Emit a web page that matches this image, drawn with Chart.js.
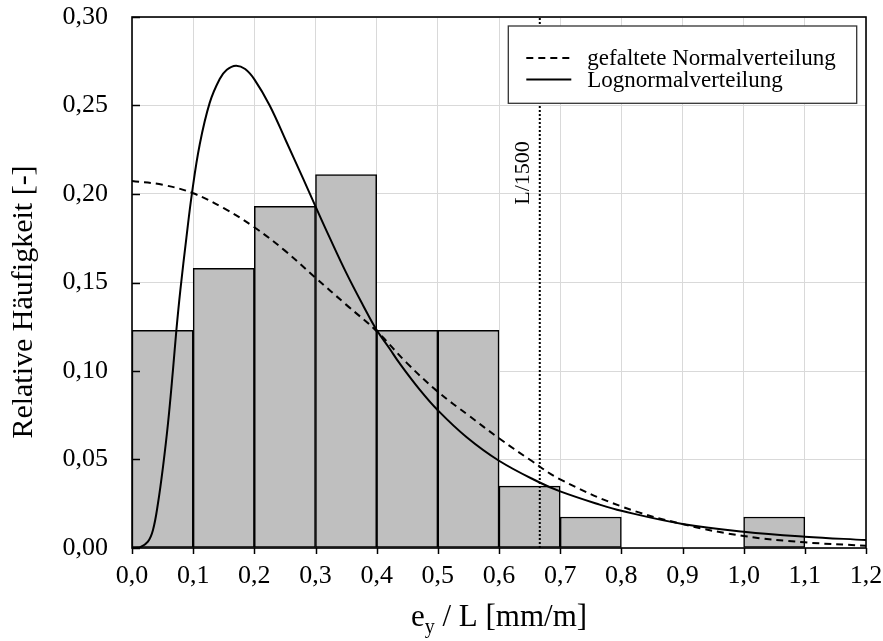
<!DOCTYPE html>
<html>
<head>
<meta charset="utf-8">
<script src="https://cdn.jsdelivr.net/npm/chart.js@4.4.1/dist/chart.umd.min.js"></script>
<style>
  html, body { margin: 0; padding: 0; background: #fff; }
  #wrap { width: 883px; height: 641px; position: relative; }
</style>
</head>
<body>
<div id="wrap"><canvas id="myChart"></canvas></div>
<script>
// Histogramm: Klassen (Beginn) und relative Häufigkeiten
const binStart = [0.0, 0.1, 0.2, 0.3, 0.4, 0.5, 0.6, 0.7, 0.8, 0.9, 1.0];
const binWidth = 0.1;
const relFreq = [0.123, 0.158, 0.193, 0.211, 0.123, 0.123, 0.035, 0.0175, 0, 0, 0.0175];

// Lognormalverteilung
const logX = [0, 0.0126, 0.026, 0.0343, 0.0425, 0.0507, 0.0589, 0.067, 0.0726, 0.0791, 0.089, 0.098, 0.1107,
  0.127, 0.1434, 0.155, 0.17, 0.185, 0.2006, 0.2251, 0.2524, 0.2796, 0.3, 0.323, 0.3505, 0.3776, 0.3995, 0.4213,
  0.4376, 0.4703, 0.5, 0.5467, 0.6, 0.6665, 0.7, 0.7646, 0.8, 0.9, 1.0, 1.1, 1.2];
const logY = [0, 0.0003, 0.0036, 0.0102, 0.0253, 0.0459, 0.0705, 0.1006, 0.1232, 0.1458, 0.1755, 0.2004, 0.228,
  0.2515, 0.2650, 0.2702, 0.2725, 0.2706, 0.2645, 0.2500, 0.2295, 0.2088, 0.1930, 0.1755, 0.1553, 0.1372, 0.1235, 0.1126,
  0.1043, 0.0895, 0.0778, 0.0627, 0.0493, 0.0370, 0.0320, 0.0245, 0.0210, 0.0136, 0.0092, 0.0064, 0.0045];

// gefaltete Normalverteilung
const normX = [0, 0.05, 0.1, 0.15, 0.2, 0.25, 0.3, 0.35, 0.4, 0.45, 0.5, 0.55,
  0.6, 0.65, 0.7, 0.8, 0.9, 1.0, 1.1, 1.2];
const normY = [0.2073, 0.2052, 0.2004, 0.1920, 0.1812, 0.1680, 0.1527, 0.1375, 0.1225, 0.1043, 0.0883, 0.0750,
  0.0620, 0.0500, 0.0388, 0.0235, 0.0135, 0.0068, 0.0032, 0.0013];

// Grenzwert L/1500
const limitX = 1 / 1.5;
const limitLabel = 'L/1500';

const xTicks = [0, 0.1, 0.2, 0.3, 0.4, 0.5, 0.6, 0.7, 0.8, 0.9, 1.0, 1.1, 1.2];
const yTicks = [0, 0.05, 0.10, 0.15, 0.20, 0.25, 0.30];

const serif = '"Liberation Serif", "Times New Roman", serif';
const comma = (v, d) => v.toFixed(d).replace('.', ',');

const toXY = (xs, ys) => xs.map((x, i) => ({ x: x, y: ys[i] }));

// Achsentitel, Rahmen, Tickstriche, Legende
const extras = {
  id: 'extras',
  afterDatasetsDraw(chart) {
    const { ctx, chartArea: a, scales } = chart;
    const xs = scales.x, ys = scales.y;
    ctx.save();

    // L/1500 Beschriftung
    ctx.fillStyle = '#000';
    ctx.font = '22px ' + serif;
    ctx.textAlign = 'center';
    ctx.textBaseline = 'middle';
    ctx.translate(xs.getPixelForValue(limitX) - 17, a.top + 156);
    ctx.rotate(-Math.PI / 2);
    ctx.fillText(limitLabel, 0, 0);
    ctx.setTransform(1, 0, 0, 1, 0, 0);

    // Legende
    const lx = a.right - 357.7, ly = a.top + 9, lw = 348.4, lh = 77.3;
    ctx.fillStyle = '#fff';
    ctx.fillRect(lx, ly, lw, lh);
    ctx.strokeStyle = '#333';
    ctx.lineWidth = 1.3;
    ctx.strokeRect(lx, ly, lw, lh);
    const items = [chart.data.datasets[1], chart.data.datasets[2]];
    items.forEach((ds, i) => {
      const y = ly + 32 + i * 21.6;
      ctx.strokeStyle = '#000';
      ctx.lineWidth = 2;
      ctx.setLineDash(ds.borderDash || []);
      ctx.beginPath();
      ctx.moveTo(lx + 18, y);
      ctx.lineTo(lx + 63, y);
      ctx.stroke();
      ctx.setLineDash([]);
      ctx.fillStyle = '#000';
      ctx.font = '23px ' + serif;
      ctx.textAlign = 'left';
      ctx.textBaseline = 'middle';
      ctx.fillText(ds.label, lx + 79, y + 1);
    });

    // y-Ticks nach innen, x-Ticks nach aussen
    ctx.strokeStyle = '#000';
    ctx.lineWidth = 1.5;
    yTicks.forEach(v => {
      const y = Math.round(ys.getPixelForValue(v)) + 0.5;
      ctx.beginPath();
      ctx.moveTo(a.left, y);
      ctx.lineTo(a.left + 8, y);
      ctx.stroke();
    });
    xTicks.forEach(v => {
      const x = Math.round(xs.getPixelForValue(v)) + 0.5;
      ctx.beginPath();
      ctx.moveTo(x, a.bottom);
      ctx.lineTo(x, a.bottom + 6);
      ctx.stroke();
    });

    // Rahmen
    ctx.lineWidth = 1.6;
    ctx.strokeRect(a.left, a.top, a.right - a.left, a.bottom - a.top);

    // Achsentitel
    ctx.fillStyle = '#000';
    ctx.font = '31px ' + serif;
    ctx.textBaseline = 'alphabetic';
    const cx = (a.left + a.right) / 2;
    const w1 = ctx.measureText('e').width;
    ctx.font = '20px ' + serif;
    const w2 = ctx.measureText('y').width;
    ctx.font = '31px ' + serif;
    const w3 = ctx.measureText(' / L [mm/m]').width;
    const sx = cx - (w1 + w2 + w3) / 2;
    const by = a.bottom + 78;
    ctx.textAlign = 'left';
    ctx.fillText('e', sx, by);
    ctx.font = '20px ' + serif;
    ctx.fillText('y', sx + w1, by + 7);
    ctx.font = '31px ' + serif;
    ctx.fillText(' / L [mm/m]', sx + w1 + w2, by);

    ctx.font = '30px ' + serif;
    ctx.translate(24, a.top + 285);
    ctx.rotate(-Math.PI / 2);
    ctx.textAlign = 'center';
    ctx.textBaseline = 'middle';
    ctx.fillText('Relative Häufigkeit [-]', 0, 0);
    ctx.restore();
  }
};

const ctx = document.getElementById('myChart');

new Chart(ctx, {
  type: 'bar',
  data: {
    datasets: [{
      type: 'bar',
      label: 'Histogramm',
      data: toXY(binStart.map(b => b + binWidth / 2), relFreq),
      backgroundColor: '#bfbfbf',
      borderColor: '#000',
      borderWidth: 1.5,
      borderSkipped: false,
      barPercentage: 1,
      categoryPercentage: 1,
      order: 4
    }, {
      type: 'line',
      label: 'gefaltete Normalverteilung',
      data: toXY(normX, normY),
      borderColor: '#000',
      borderWidth: 2,
      borderDash: [7, 5],
      pointRadius: 0,
      tension: 0.4,
      order: 2
    }, {
      type: 'line',
      label: 'Lognormalverteilung',
      data: toXY(logX, logY),
      borderColor: '#000',
      borderWidth: 2,
      pointRadius: 0,
      tension: 0.4,
      order: 1
    }, {
      type: 'line',
      label: limitLabel,
      data: [{ x: limitX, y: 0 }, { x: limitX, y: 0.30 }],
      borderColor: '#000',
      borderWidth: 2,
      borderDash: [2, 2],
      pointRadius: 0,
      order: 3
    }]
  },
  options: {
    responsive: true,
    maintainAspectRatio: false,
    animation: false,
    layout: { padding: { top: 17, right: 17, left: 0, bottom: 0 } },
    plugins: {
      legend: { display: false },
      tooltip: { enabled: false }
    },
    scales: {
      x: {
        type: 'linear',
        min: 0,
        max: 1.2,
        offset: false,
        afterFit: s => { s.height = 93; },
        afterBuildTicks: s => { s.ticks = xTicks.map(v => ({ value: v })); },
        grid: { color: '#d9d9d9', lineWidth: 1, offset: false, tickColor: 'rgba(0,0,0,0)', tickLength: 13 },
        border: { display: false },
        ticks: {
          autoSkip: false,
          maxRotation: 0,
          padding: 0,
          color: '#000',
          font: { family: serif, size: 26 },
          callback: v => comma(v, 1)
        }
      },
      y: {
        min: 0,
        max: 0.30,
        afterFit: s => { s.width = 132; },
        afterBuildTicks: s => { s.ticks = yTicks.map(v => ({ value: v })); },
        grid: { color: '#d9d9d9', lineWidth: 1, tickColor: 'rgba(0,0,0,0)', tickLength: 24 },
        border: { display: false },
        ticks: {
          padding: 0,
          color: '#000',
          font: { family: serif, size: 26 },
          callback: v => comma(v, 2)
        }
      }
    }
  },
  plugins: [extras]
});
</script>
</body>
</html>
